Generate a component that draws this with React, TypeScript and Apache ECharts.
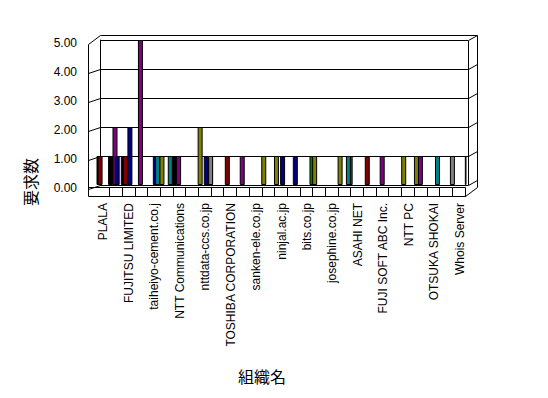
import React, { useEffect, useRef } from "react";
import * as echarts from "echarts";

// 29 organisations; only every other name is printed on the axis
const categories = [
  "PLALA", "", "FUJITSU LIMITED", "", "taiheiyo-cement.co.j", "",
  "NTT Communications", "", "nttdata-ccs.co.jp", "", "TOSHIBA CORPORATION", "",
  "sanken-ele.co.jp", "", "ninjal.ac.jp", "", "bits.co.jp", "",
  "josephine.co.jp", "", "ASAHI NET", "", "FUJI SOFT ABC Inc.", "",
  "NTT PC", "", "OTSUKA SHOKAI", "", "Whois Server",
];

const yTicks = [0, 1, 2, 3, 4, 5];
const yTitle = "要求数";
const xTitle = "組織名";

//                 1  2  3  4  5  6  7  8  9 10 11 12 13 14 15 16 17 18 19 20 21 22 23 24 25 26 27 28 29
const sGreen  = [0, 0, 0, 0, 0, 0, 0, 0, 0, 1, 0, 0, 0, 0, 0, 0, 0, 1, 0, 0, 1, 0, 0, 0, 0, 0, 0, 0, 0];
const sBlack  = [1, 1, 1, 0, 0, 0, 1, 0, 0, 0, 0, 0, 0, 0, 0, 0, 0, 0, 0, 0, 0, 0, 0, 0, 0, 0, 0, 0, 0];
const sDkRed  = [1, 0, 1, 0, 0, 0, 0, 0, 0, 0, 1, 0, 0, 0, 0, 0, 0, 0, 0, 0, 0, 1, 0, 0, 0, 0, 0, 0, 0];
const sPurple = [0, 2, 0, 5, 0, 0, 1, 0, 0, 0, 0, 1, 0, 0, 0, 0, 0, 0, 0, 0, 0, 0, 1, 0, 0, 1, 0, 0, 0];
const sNavy   = [0, 1, 2, 0, 1, 0, 0, 0, 1, 0, 0, 0, 0, 0, 1, 1, 0, 0, 0, 0, 0, 0, 0, 0, 0, 0, 0, 0, 0];
const sTeal   = [0, 0, 0, 0, 1, 1, 0, 0, 0, 0, 0, 0, 0, 0, 0, 0, 0, 0, 0, 1, 0, 0, 0, 0, 0, 0, 1, 0, 0];
const sGray   = [0, 0, 0, 0, 0, 0, 0, 0, 1, 0, 0, 0, 0, 0, 0, 0, 0, 0, 0, 0, 0, 0, 0, 0, 0, 0, 0, 1, 0];
const sOlive  = [0, 0, 0, 0, 1, 0, 0, 2, 0, 0, 0, 0, 1, 1, 0, 0, 1, 0, 1, 0, 0, 0, 0, 1, 1, 0, 0, 0, 1];

export default function App() {
  const ref = useRef<HTMLDivElement>(null);

  useEffect(() => {
    const chart = echarts.init(ref.current!, null, { renderer: "svg" });
    const BL = 100, BR = 468, FL = 97, FR = 466, TOP = 40, BOT = 185;
    const font = "'Liberation Sans', Arial, sans-serif";
    const cjk = "'Noto Sans CJK JP', sans-serif";

    const bar = (name: string, color: string, data: number[]) => ({
      type: "bar",
      name,
      data: data.map((v) => (v === 0 ? null : v)),
      xAxisIndex: 1,
      yAxisIndex: 1,
      barWidth: 5,
      barGap: "-56%",
      itemStyle: { color, borderColor: "#000", borderWidth: 1 },
      silent: true,
    });

    chart.setOption({
      animation: false,
      backgroundColor: "#fff",
      grid: [
        { left: BL, top: TOP, width: BR - BL, height: BOT - TOP },
        { left: FL, top: TOP, width: FR - FL, height: BOT - TOP },
      ],
      xAxis: [
        { type: "category", gridIndex: 0, data: categories, show: false },
        {
          type: "category",
          gridIndex: 1,
          data: categories,
          axisLine: { show: false },
          axisTick: { show: false },
          axisLabel: {
            interval: 1,
            rotate: 90,
            margin: 18,
            fontSize: 12,
            color: "#000",
            fontFamily: font,
          },
        },
      ],
      yAxis: [
        {
          type: "value",
          gridIndex: 0,
          min: yTicks[0],
          max: yTicks[yTicks.length - 1],
          interval: 1,
          axisLine: { show: true, lineStyle: { color: "#000", width: 1 } },
          axisTick: { show: false },
          splitLine: { show: true, lineStyle: { color: "#000", width: 1 } },
          axisLabel: {
            formatter: (v: number) => v.toFixed(2),
            margin: 23,
            fontSize: 12,
            color: "#000",
            fontFamily: font,
            verticalAlign: "top",
            lineHeight: 6,
          },
        },
        { type: "value", gridIndex: 1, min: 0, max: 5, interval: 1, show: false },
      ],
      series: [
        bar("系列1", "#008000", sGreen),
        bar("系列2", "#000000", sBlack),
        bar("系列3", "#800000", sDkRed),
        bar("系列4", "#800080", sPurple),
        bar("系列5", "#000080", sNavy),
        bar("系列6", "#008080", sTeal),
        bar("系列7", "#808080", sGray),
        bar("系列8", "#808000", sOlive),
      ],
    });

    const Y = (v: number) => chart.convertToPixel({ yAxisIndex: 0 }, v) as number;
    const L = (x1: number, y1: number, x2: number, y2: number) => ({
      type: "line",
      silent: true,
      shape: { x1: x1 + 0.5, y1: y1 + 0.5, x2: x2 + 0.5, y2: y2 + 0.5 },
      style: { stroke: "#000", lineWidth: 1 },
    });
    const y5 = Y(5), y0 = Y(0);
    const els: any[] = [];
    // back wall thickness (top and right)
    els.push(L(BL, y5 - 5, BR + 9, y5 - 5));
    els.push(L(BR, y5, BR + 9, y5 - 5));
    els.push(L(BR + 9, y5 - 5, BR + 9, y0 + 2));
    els.push(L(BR, y5, BR, y0));
    // left wall
    els.push(L(BL - 12, y5 + 4, BL, y5 - 5));
    els.push(L(BL - 12, y5 + 4, BL - 12, y0 + 11));
    yTicks.forEach((v) => {
      if (v < 5) {
        els.push(L(BR, Y(v), BR + 9, Y(v) - 5));
        els.push(L(BL - 12, Y(v) + 4, BL, Y(v)));
      }
    });
    // floor front face
    els.push(L(BL - 12, y0 + 2, BR - 3, y0 + 2));
    els.push(L(BL - 12, y0 + 11, BR - 3, y0 + 11));
    els.push(L(BR - 3, y0 + 2, BR - 3, y0 + 11));
    els.push(L(BR - 3, y0 + 11, BR + 9, y0 + 2));
    const band = (BR - BL) / categories.length;
    for (let k = 1; k < categories.length; k++) {
      const x = Math.round(BL + k * band - 3.4);
      els.push(L(x, y0 + 2, x, y0 + 11));
    }
    // titles
    els.push({
      type: "text",
      x: 30,
      y: 182,
      rotation: Math.PI / 2,
      style: {
        text: yTitle,
        fontSize: 16,
        fontFamily: cjk,
        fill: "#000",
        align: "center",
        verticalAlign: "middle",
      },
    });
    els.push({
      type: "text",
      x: 262,
      y: 376,
      style: {
        text: xTitle,
        fontSize: 16,
        fontFamily: cjk,
        fill: "#000",
        align: "center",
        verticalAlign: "middle",
      },
    });
    chart.setOption({ graphic: els });

    return () => chart.dispose();
  }, []);

  return (
    <div
      ref={ref}
      style={{ position: "fixed", left: 0, top: 0, width: 548, height: 398 }}
    />
  );
}
